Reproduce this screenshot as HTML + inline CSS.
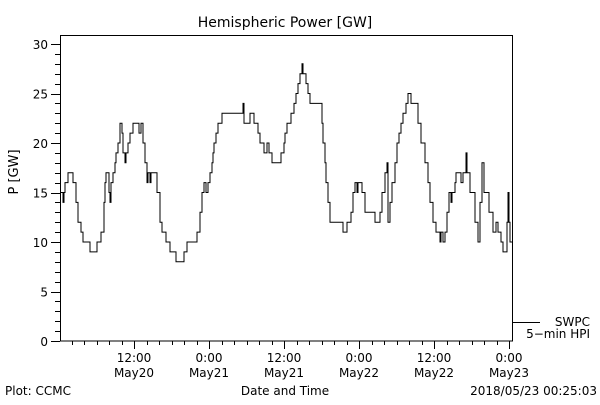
<!DOCTYPE html>
<html><head><meta charset="utf-8"><style>
body{margin:0;background:#fff}
svg text{font-family:"DejaVu Sans","Liberation Sans",sans-serif;fill:#000}
</style></head><body>
<svg id="c" width="600" height="400" xmlns="http://www.w3.org/2000/svg">
<rect width="600" height="400" fill="#fff"/>
<text x="285" y="27" font-size="14" text-anchor="middle">Hemispheric Power [GW]</text>
<text transform="translate(18,172) rotate(-90)" font-size="13" text-anchor="middle">P [GW]</text>
<text x="285" y="395" font-size="12" text-anchor="middle">Date and Time</text>
<text x="5" y="395" font-size="12">Plot: CCMC</text>
<text x="597" y="395" font-size="12" text-anchor="end">2018/05/23 00:25:03</text>
<rect x="60.5" y="35.5" width="452" height="305.5" fill="none" stroke="#000"/>
<line x1="512" y1="322.5" x2="540" y2="322.5" stroke="#000"/>
<text x="590" y="326" font-size="12" text-anchor="end">SWPC</text>
<text x="590" y="338" font-size="12" text-anchor="end">5−min HPI</text>
<g id="axes"></g>
<path id="series" fill="none" stroke="#000" stroke-width="1"/>
</svg>
<script>
const times=[0.16,0.64,0.8,0.96,1.44,2.24,2.72,3.04,3.52,3.84,4.96,6.08,6.72,7.2,7.36,7.52,8.0,8.16,8.32,8.64,8.96,9.12,9.44,9.76,10.08,10.24,10.56,10.72,11.04,11.36,11.84,12.8,13.12,13.44,13.76,14.08,14.24,14.56,14.72,15.68,16.16,16.48,17.12,17.76,18.72,20.0,20.48,22.08,22.56,22.88,23.2,23.52,23.84,24.16,24.48,24.64,24.8,25.12,25.44,26.08,29.44,29.6,30.56,31.2,31.84,32.16,32.8,33.28,33.6,34.08,35.52,36.0,36.16,36.48,37.12,37.6,37.92,38.24,38.56,38.88,39.04,39.52,39.84,40.16,42.08,42.24,42.56,42.72,43.04,43.36,45.44,46.08,46.72,47.04,47.36,47.68,47.84,48.48,48.96,50.08,50.56,51.04,51.36,51.68,52.16,52.48,52.64,52.96,53.28,53.76,54.08,54.4,54.72,55.04,55.52,55.84,56.32,57.44,57.92,58.56,59.04,59.36,59.84,60.32,60.96,61.12,61.44,61.76,62.08,62.4,62.72,62.88,63.36,63.52,64.32,64.64,65.12,65.28,65.76,66.56,67.04,67.36,67.68,68.0,68.8,69.44,69.92,70.24,70.72,71.04,71.68,71.84,72.0,72.16];
const power=[15,14,15,16,17,16,14,12,11,10,9,10,11,14,16,17,15,14,16,17,18,19,20,22,21,19,18,19,20,21,22,21,22,20,18,16,17,16,17,15,12,11,10,9,8,9,10,11,13,15,16,15,16,17,18,19,20,21,22,23,24,22,23,22,21,20,19,20,19,18,19,20,21,22,23,24,25,26,27,28,27,26,25,24,22,20,18,16,14,12,11,12,13,15,16,15,16,15,13,13,12,12,13,15,17,18,12,14,16,18,20,21,22,23,24,25,24,22,20,18,16,14,12,11,10,11,10,11,13,15,14,15,16,17,16,17,19,17,15,12,10,14,18,15,13,11,12,11,10,9,12,15,12,10];
const yTicks=[0,5,10,15,20,25,30];
const xTickHours=[12,24,36,48,60,72];
const xTickTimes=["12:00","0:00","12:00","0:00","12:00","0:00"];
const xTickDates=["May20","May21","May21","May22","May22","May23"];
const tEnd=72.5;
const NS="http://www.w3.org/2000/svg";
const X=t=>59+6.25*t;
const Y=v=>341-9.9*v;
const g=document.getElementById('axes');
function ln(x1,y1,x2,y2,name){const l=document.createElementNS(NS,'line');
l.setAttribute('x1',x1);l.setAttribute('y1',y1);l.setAttribute('x2',x2);l.setAttribute('y2',y2);l.setAttribute('stroke','#000');


g.appendChild(l);}
function tx(x,y,s,anchor,name){const t=document.createElementNS(NS,'text');
t.setAttribute('x',x);t.setAttribute('y',y);t.setAttribute('font-size','12');t.setAttribute('text-anchor',anchor);t.textContent=s;


g.appendChild(t);}
for(let v=0;v<=30;v++){const y=Math.round(Y(v))+0.5;ln(v%5===0?51:55,y,60,y,'y-tick');}
yTicks.forEach(v=>tx(48,Y(v)+5,String(v),'end','y-tick-label'));
for(let h=2;h<=72;h+=2){const x=Math.round(X(h))+0.5;ln(x,341,x,h%12===0?349:345,'x-tick');}
xTickHours.forEach((h,i)=>{tx(X(h),362,xTickTimes[i],'middle','x-tick-time');tx(X(h),377,xTickDates[i],'middle','x-tick-date');});
let d='M'+X(times[0]).toFixed(1)+','+Y(power[0]).toFixed(1);
for(let i=1;i<times.length;i++){d+=' H'+X(times[i]).toFixed(1)+' V'+Y(power[i]).toFixed(1);}
d+=' H'+X(tEnd).toFixed(1);
document.getElementById('series').setAttribute('d',d);
</script>
</body></html>
